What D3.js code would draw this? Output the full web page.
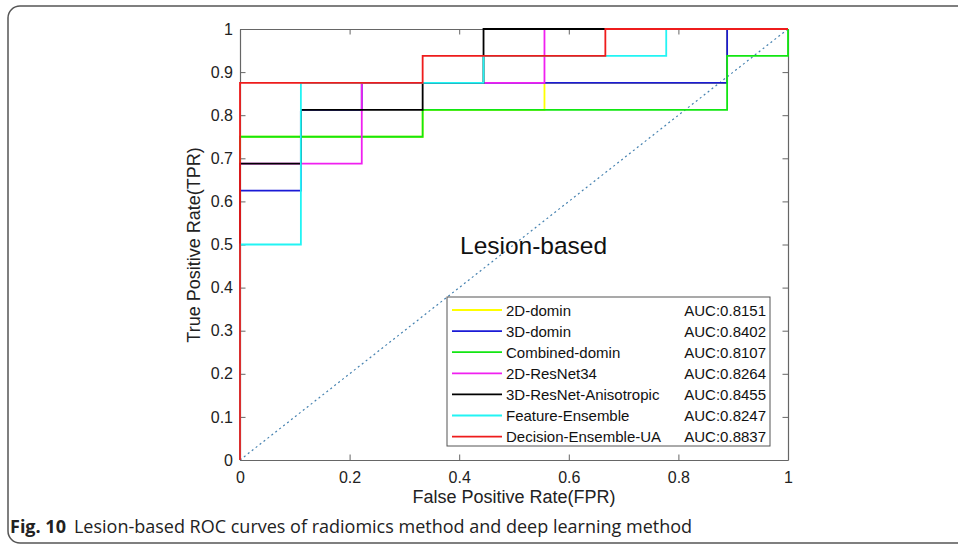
<!DOCTYPE html>
<html>
<head>
<meta charset="utf-8">
<script src="https://cdn.jsdelivr.net/npm/d3@7"></script>
<style>
  body { margin: 0; background: #fff; }
  svg { display: block; font-family: "Liberation Sans", Arial, sans-serif; }
</style>
</head>
<body>
<svg id="chart" width="958" height="552"></svg>
<script>
// ROC curves, step points (FPR in ninths, TPR in sixteenths)
const methods = ["2D-domin", "3D-domin", "Combined-domin", "2D-ResNet34",
                 "3D-ResNet-Anisotropic", "Feature-Ensemble", "Decision-Ensemble-UA"];
const aucLabels = ["AUC:0.8151", "AUC:0.8402", "AUC:0.8107", "AUC:0.8264",
                   "AUC:0.8455", "AUC:0.8247", "AUC:0.8837"];

const fpr2DDomin   = [0, 0, 0.3333, 0.3333, 0.5556, 0.5556, 0.8889, 0.8889, 1];
const tpr2DDomin   = [0, 0.75, 0.75, 0.8125, 0.8125, 0.875, 0.875, 1, 1];
const fpr3DDomin   = [0, 0, 0.1111, 0.1111, 0.2222, 0.2222, 0.8889, 0.8889, 1];
const tpr3DDomin   = [0, 0.625, 0.625, 0.8125, 0.8125, 0.875, 0.875, 1, 1];
const fprCombined  = [0, 0, 0.3333, 0.3333, 0.8889, 0.8889, 1, 1];
const tprCombined  = [0, 0.75, 0.75, 0.8125, 0.8125, 0.9375, 0.9375, 1];
const fpr2DResNet  = [0, 0, 0.2222, 0.2222, 0.5556, 0.5556, 1];
const tpr2DResNet  = [0, 0.6875, 0.6875, 0.875, 0.875, 1, 1];
const fpr3DResNet  = [0, 0, 0.1111, 0.1111, 0.3333, 0.3333, 0.4444, 0.4444, 1];
const tpr3DResNet  = [0, 0.6875, 0.6875, 0.8125, 0.8125, 0.875, 0.875, 1, 1];
const fprFeature   = [0, 0, 0.1111, 0.1111, 0.4444, 0.4444, 0.7778, 0.7778, 1];
const tprFeature   = [0, 0.5, 0.5, 0.875, 0.875, 0.9375, 0.9375, 1, 1];
const fprDecision  = [0, 0, 0.3333, 0.3333, 0.6667, 0.6667, 1];
const tprDecision  = [0, 0.875, 0.875, 0.9375, 0.9375, 1, 1];

const fprSeries = [fpr2DDomin, fpr3DDomin, fprCombined, fpr2DResNet, fpr3DResNet, fprFeature, fprDecision];
const tprSeries = [tpr2DDomin, tpr3DDomin, tprCombined, tpr2DResNet, tpr3DResNet, tprFeature, tprDecision];
const colors = ["#ffff00", "#1a1ad6", "#12e612", "#f020f0", "#000000", "#22f4f4", "#ee1c1c"];

const tickValues = [0, 0.2, 0.4, 0.6, 0.8, 1];
const yTickValues = [0, 0.1, 0.2, 0.3, 0.4, 0.5, 0.6, 0.7, 0.8, 0.9, 1];

const svg = d3.select("#chart");

// outer figure frame (right side runs off the page)
svg.append("rect")
    .attr("x", 8).attr("y", 6)
    .attr("width", 990).attr("height", 537)
    .attr("rx", 12)
    .attr("fill", "none")
    .attr("stroke", "#555")
    .attr("stroke-width", 1.5);

const x = d3.scaleLinear().domain([0, 1]).range([240, 788]);
const y = d3.scaleLinear().domain([0, 1]).range([460, 29]);

const axisColor = "#666";

// axes (MATLAB style box with inward ticks)
const fmt = d => d3.format("~g")(d);
const gx = svg.append("g").attr("transform", "translate(0,460)")
    .call(d3.axisBottom(x).tickValues(tickValues).tickSizeInner(-5.5).tickSizeOuter(0).tickPadding(12).tickFormat(fmt));
const gxt = svg.append("g").attr("transform", "translate(0,29)")
    .call(d3.axisTop(x).tickValues(tickValues).tickSizeInner(-5.5).tickSizeOuter(0).tickFormat(""));
const gy = svg.append("g").attr("transform", "translate(240,0)")
    .call(d3.axisLeft(y).tickValues(yTickValues).tickSizeInner(-5.5).tickSizeOuter(0).tickPadding(7).tickFormat(fmt));
const gyr = svg.append("g").attr("transform", "translate(788,0)")
    .call(d3.axisRight(y).tickValues(yTickValues).tickSizeInner(-5.5).tickSizeOuter(0).tickFormat(""));

[gx, gxt, gy, gyr].forEach(g => {
  g.select(".domain").attr("stroke", axisColor).attr("stroke-width", 1.2);
  g.selectAll(".tick line").attr("stroke", axisColor).attr("stroke-width", 1);
  g.selectAll(".tick text").attr("fill", "#222").attr("font-size", 16)
    .attr("font-family", "'Liberation Sans', Arial, sans-serif");
});

// chance diagonal
svg.append("line")
    .attr("x1", x(0)).attr("y1", y(0))
    .attr("x2", x(1)).attr("y2", y(1))
    .attr("stroke", "#4682b0")
    .attr("stroke-width", 1.2)
    .attr("stroke-dasharray", "2,3");

// ROC curves
const line = d3.line().x(d => x(d[0])).y(d => y(d[1]));
methods.forEach((m, i) => {
  const pts = fprSeries[i].map((f, j) => [f, tprSeries[i][j]]);
  svg.append("path")
      .attr("d", line(pts))
      .attr("fill", "none")
      .attr("stroke", colors[i])
      .attr("stroke-width", 1.8);
});

// annotation
svg.append("text")
    .attr("x", 460).attr("y", 254)
    .attr("font-size", 24.5)
    .attr("fill", "#111")
    .text("Lesion-based");

// legend
const legend = svg.append("g");
legend.append("rect")
    .attr("x", 447).attr("y", 297)
    .attr("width", 323).attr("height", 149)
    .attr("fill", "#fff")
    .attr("stroke", "#555")
    .attr("stroke-width", 1);

methods.forEach((m, i) => {
  const cy = 310 + i * 21.1;
  legend.append("line")
      .attr("x1", 452).attr("x2", 502)
      .attr("y1", cy).attr("y2", cy)
      .attr("stroke", colors[i])
      .attr("stroke-width", 1.8);
  legend.append("text")
      .attr("x", 506).attr("y", cy + 5.5)
      .attr("font-size", 15)
      .attr("fill", "#111")
      .text(m);
  legend.append("text")
      .attr("x", 766).attr("y", cy + 5.5)
      .attr("text-anchor", "end")
      .attr("font-size", 15)
      .attr("fill", "#111")
      .text(aucLabels[i]);
});

// axis titles
svg.append("text")
    .attr("x", 514).attr("y", 503)
    .attr("text-anchor", "middle")
    .attr("font-size", 18)
    .attr("fill", "#222")
    .text("False Positive Rate(FPR)");

svg.append("text")
    .attr("transform", "translate(200,245) rotate(-90)")
    .attr("text-anchor", "middle")
    .attr("font-size", 18)
    .attr("fill", "#222")
    .text("True Positive Rate(TPR)");

// caption
const cap = svg.append("text")
    .attr("x", 10).attr("y", 533)
    .attr("font-family", "'Open Sans', 'Noto Sans', sans-serif")
    .attr("font-size", 18)
    .attr("fill", "#222");
cap.append("tspan").attr("font-weight", "bold").text("Fig. 10");
cap.append("tspan").attr("dx", 8).text("Lesion-based ROC curves of radiomics method and deep learning method");
</script>
</body>
</html>
